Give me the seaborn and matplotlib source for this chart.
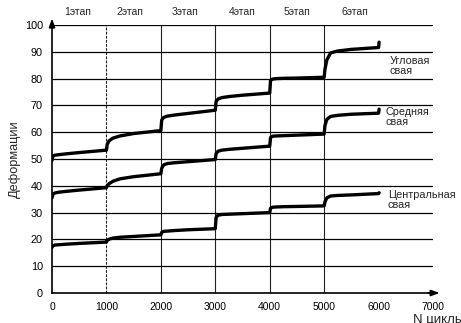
import matplotlib
matplotlib.use("Agg")
import matplotlib.pyplot as plt
import seaborn as sns
import pandas as pd

# ---- data ----
cycles = [0, 15, 50, 120, 250, 500, 1000,
          1015, 1050, 1120, 1250, 1500, 2000,
          2015, 2050, 2120, 2250, 2500, 3000,
          3015, 3050, 3120, 3250, 3500, 4000,
          4015, 4050, 4120, 4250, 4500, 5000,
          5015, 5050, 5120, 5250, 5500, 6000, 6010]

corner = [49.5, 51.0, 51.4, 51.6, 51.9, 52.4, 53.3,
          55.5, 56.8, 57.8, 58.6, 59.5, 60.6,
          64.5, 65.5, 66.0, 66.4, 67.0, 68.2,
          71.5, 72.4, 72.9, 73.3, 73.8, 74.6,
          79.3, 79.8, 80.0, 80.1, 80.2, 80.5,
          83.5, 87.0, 89.6, 90.3, 90.9, 91.6, 93.6]

middle = [35.5, 36.8, 37.3, 37.6, 37.9, 38.4, 39.3,
          40.0, 40.8, 41.7, 42.6, 43.4, 44.5,
          46.5, 47.8, 48.3, 48.6, 49.0, 49.8,
          52.0, 52.9, 53.3, 53.6, 54.0, 54.8,
          58.0, 58.5, 58.6, 58.7, 58.9, 59.3,
          62.5, 64.8, 65.9, 66.3, 66.7, 67.1, 68.6]

central = [17.0, 17.6, 17.9, 18.0, 18.2, 18.5, 19.0,
           19.6, 20.1, 20.5, 20.8, 21.1, 21.7,
           22.6, 23.0, 23.1, 23.3, 23.6, 24.0,
           28.2, 29.0, 29.3, 29.4, 29.6, 30.0,
           31.6, 32.0, 32.1, 32.2, 32.3, 32.5,
           34.0, 35.5, 36.2, 36.4, 36.6, 37.1, 37.4]

series_names = ["Угловая\nсвая", "Средняя\nсвая", "Центральная\nсвая"]
stage_labels = ["1этап", "2этап", "3этап", "4этап", "5этап", "6этап"]
stage_bounds = [1000, 2000, 3000, 4000, 5000]
x_ticks = [0, 1000, 2000, 3000, 4000, 5000, 6000, 7000]
y_ticks = [0, 10, 20, 30, 40, 50, 60, 70, 80, 90, 100]
y_label = "Деформации"
x_label = "N циклы"

# positions of annotations (layout only)
stage_label_x = [480, 1430, 2440, 3500, 4500, 5560]
series_label_pos = [(6200, 84.7), (6120, 65.7), (6170, 34.7)]

df = pd.concat([
    pd.DataFrame({"N": cycles, "D": vals, "pile": name})
    for name, vals in zip(series_names, [corner, middle, central])
])

sns.set_style("white")
plt.rcParams["font.family"] = ["Liberation Sans", "DejaVu Sans"]

fig = plt.figure(figsize=(4.61, 3.23), dpi=100)
ax = fig.add_axes([52 / 461, 30 / 323, 381 / 461, 268 / 323])

# stage boundaries and horizontal grid
for b in stage_bounds:
    ax.axvline(b, color="#222222", lw=0.8,
               ls=(0, (2.5, 1.2)) if b == 1000 else "-", zorder=1)
for yv in y_ticks[1:]:
    ax.axhline(yv, color="black", lw=0.9, zorder=1)

sns.lineplot(data=df, x="N", y="D", units="pile", estimator=None, sort=False,
             color="black", lw=2.4, ax=ax, legend=False, zorder=3)

ax.set_xlim(0, 7000)
ax.set_ylim(0, 100)
ax.set_xticks(x_ticks)
ax.set_yticks(y_ticks)
ax.tick_params(axis="both", labelsize=7.5, length=2.5, width=0.8,
               direction="out", colors="black")
ax.tick_params(axis="x", pad=4)
ax.tick_params(axis="y", pad=4, labelsize=7.8)
ax.set_xlabel("")
ax.set_ylabel(y_label, fontsize=9.2, labelpad=3)

for s in ["top", "right"]:
    ax.spines[s].set_visible(False)
for s in ["left", "bottom"]:
    ax.spines[s].set_color("black")
    ax.spines[s].set_linewidth(1.2)

# axis arrows
ax.annotate("", xy=(0, 1.035), xytext=(0, 0.98), xycoords="axes fraction",
            arrowprops=dict(arrowstyle="-|>,head_length=0.5,head_width=0.18",
                            color="black", lw=1.2), annotation_clip=False)
ax.annotate("", xy=(1.025, 0), xytext=(0.98, 0), xycoords="axes fraction",
            arrowprops=dict(arrowstyle="-|>,head_length=0.5,head_width=0.18",
                            color="black", lw=1.2), annotation_clip=False)

for lbl, xp in zip(stage_labels, stage_label_x):
    ax.text(xp, 104.9, lbl, ha="center", va="center", fontsize=7.5, clip_on=False)

for name, (xp, yp) in zip(series_names, series_label_pos):
    ax.text(xp, yp, name, ha="left", va="center", fontsize=7.8,
            linespacing=1.05, clip_on=False)

fig.text(413 / 461, 3.5 / 323, x_label, ha="left", va="center", fontsize=9.5)

fig.savefig("out.png", dpi=100)
